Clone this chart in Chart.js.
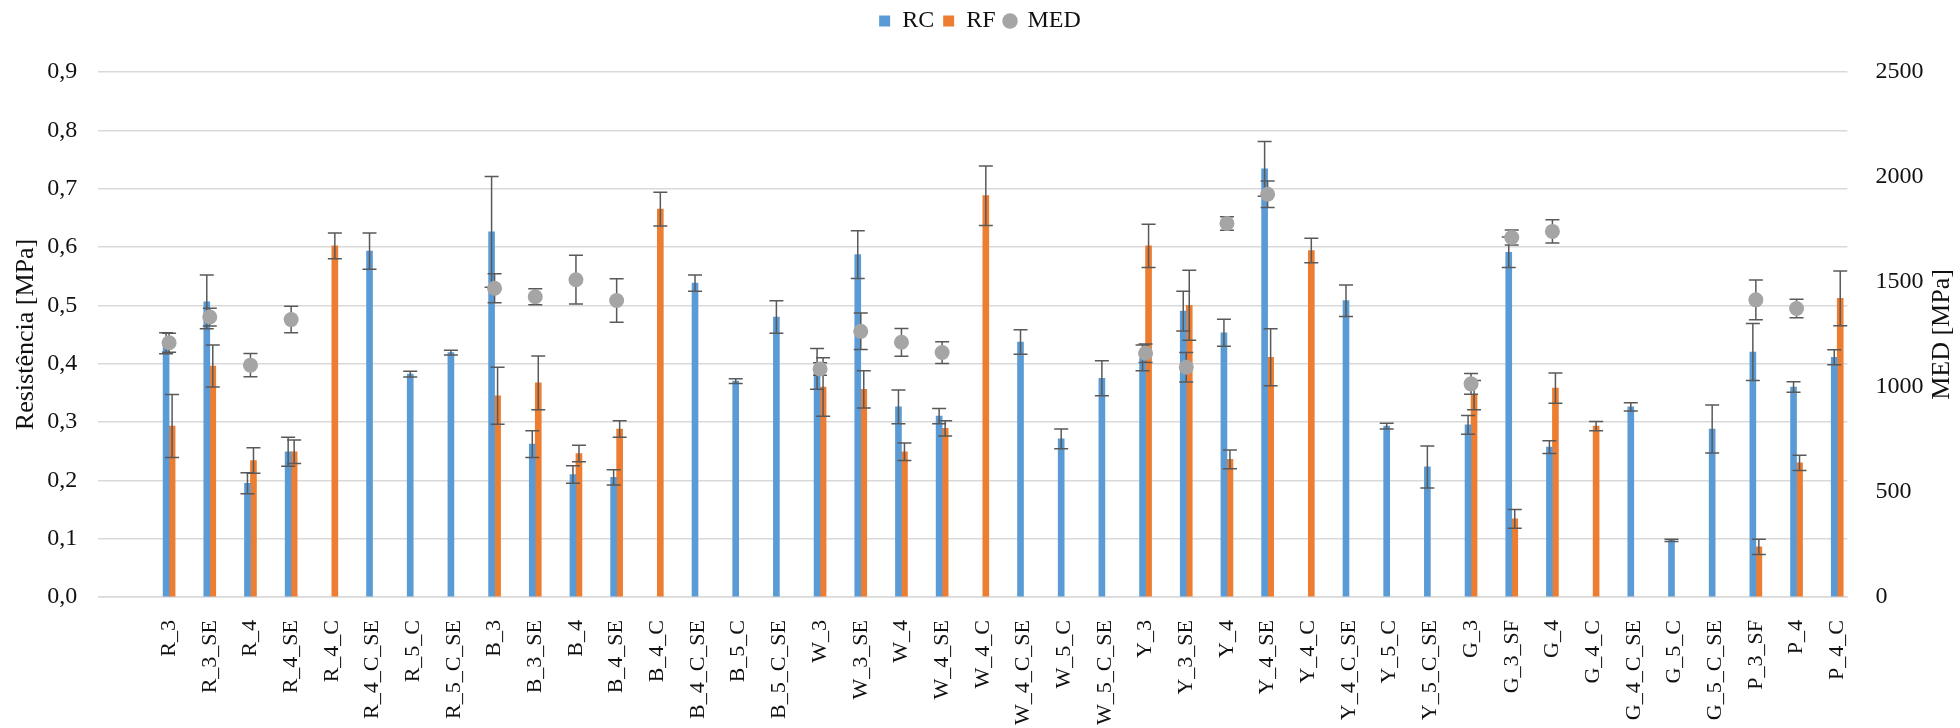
<!DOCTYPE html>
<html>
<head>
<meta charset="utf-8">
<script src="https://cdn.jsdelivr.net/npm/chart.js@4/dist/chart.umd.min.js"></script>
<style>
  body { margin: 0; background: #fff; }
  .wrap { width: 1960px; height: 728px; }
</style>
</head>
<body>
<div class="wrap"><canvas id="chart"></canvas></div>
<script>
const categories = ['R_3', 'R_3_SE', 'R_4', 'R_4_SE', 'R_4_C', 'R_4_C_SE', 'R_5_C', 'R_5_C_SE',
    'B_3', 'B_3_SE', 'B_4', 'B_4_SE', 'B_4_C', 'B_4_C_SE', 'B_5_C', 'B_5_C_SE',
    'W_3', 'W_3_SE', 'W_4', 'W_4_SE', 'W_4_C', 'W_4_C_SE', 'W_5_C', 'W_5_C_SE',
    'Y_3', 'Y_3_SE', 'Y_4', 'Y_4_SE', 'Y_4_C', 'Y_4_C_SE', 'Y_5_C', 'Y_5_C_SE',
    'G_3', 'G_3_SF', 'G_4', 'G_4_C', 'G_4_C_SE', 'G_5_C', 'G_5_C_SE', 'P_3_SF', 'P_4', 'P_4_C'];

// RC [MPa]
const rcValues = [0.435, 0.506, 0.195, 0.249, null, 0.593, 0.382, 0.419,
    0.626, 0.262, 0.210, 0.205, null, 0.538, 0.370, 0.480,
    0.391, 0.587, 0.326, 0.310, null, 0.437, 0.271, 0.375,
    0.410, 0.490, 0.453, 0.734, null, 0.508, 0.293, 0.223,
    0.295, 0.591, 0.257, null, 0.326, 0.097, 0.288, 0.420, 0.360, 0.411];
const rcErrors = [0.018, 0.046, 0.018, 0.025, null, 0.031, 0.005, 0.004,
    0.095, 0.023, 0.015, 0.013, null, 0.014, 0.004, 0.028,
    0.035, 0.041, 0.029, 0.013, null, 0.021, 0.017, 0.030,
    0.022, 0.034, 0.023, 0.047, null, 0.027, 0.005, 0.036,
    0.016, 0.026, 0.011, null, 0.007, 0.002, 0.041, 0.049, 0.009, 0.013];

// RF [MPa]
const rfValues = [0.293, 0.396, 0.234, 0.249, 0.602, null, null, null,
    0.345, 0.367, 0.246, 0.288, 0.665, null, null, null,
    0.360, 0.356, 0.249, 0.289, 0.688, null, null, null,
    0.602, 0.500, 0.236, 0.411, 0.594, null, null, null,
    0.346, 0.134, 0.358, 0.293, null, null, null, 0.086, 0.230, 0.512];
const rfErrors = [0.054, 0.036, 0.022, 0.020, 0.022, null, null, null,
    0.049, 0.046, 0.014, 0.014, 0.029, null, null, null,
    0.050, 0.032, 0.015, 0.013, 0.051, null, null, null,
    0.037, 0.060, 0.016, 0.049, 0.021, null, null, null,
    0.025, 0.016, 0.026, 0.008, null, null, null, 0.013, 0.013, 0.047];

// MED [MPa], right axis
const medValues = [1211, 1333, 1104, 1321, null, null, null, null,
    1470, 1430, 1511, 1412, null, null, null, null,
    1086, 1265, 1213, 1164, null, null, null, null,
    1161, 1094, 1779, 1918, null, null, null, null,
    1015, 1712, 1741, null, null, null, null, 1415, 1374, null];
const medErrors = [45, 42, 55, 63, null, null, null, null,
    69, 38, 116, 104, null, null, null, null,
    30, 87, 66, 52, null, null, null, null,
    44, 70, 32, 63, null, null, null, null,
    49, 36, 55, null, null, null, null, 95, 44, null];

const serif = '"Liberation Serif", "Times New Roman", serif';
const textColor = '#111';

const toPoints = arr => arr.map((v, i) => ({ x: i, y: v }));

const errorBars = {
    id: 'errorBars',
    beforeDatasetDraw(chart, args) {
        if (args.index !== 2) return;
        const ctx = chart.ctx;
        ctx.save();
        ctx.strokeStyle = '#595959';
        ctx.lineWidth = 1.5;
        [[0, rcErrors, 'y'], [1, rfErrors, 'y'], [2, medErrors, 'y2']].forEach(([di, errs, axis]) => {
            const meta = chart.getDatasetMeta(di);
            const scale = chart.scales[axis];
            const data = chart.data.datasets[di].data;
            meta.data.forEach((el, i) => {
                const v = data[i].y, e = errs[i];
                if (v == null || e == null) return;
                const x = el.x;
                const top = scale.getPixelForValue(v + e);
                const bot = scale.getPixelForValue(v - e);
                ctx.beginPath();
                ctx.moveTo(x, top); ctx.lineTo(x, bot);
                ctx.moveTo(x - 7, top); ctx.lineTo(x + 7, top);
                ctx.moveTo(x - 7, bot); ctx.lineTo(x + 7, bot);
                ctx.stroke();
            });
        });
        ctx.restore();
    }
};

// space between the legend and the plot
const legendGap = {
    id: 'legendGap',
    afterInit(chart) {
        const fit = chart.legend.fit;
        chart.legend.fit = function () {
            fit.call(this);
            this.height += 29;
        };
    }
};

// right axis title reads bottom to top
const rightTitle = {
    id: 'rightTitle',
    afterDraw(chart) {
        const { ctx, chartArea } = chart;
        ctx.save();
        ctx.translate(chart.scales.y2.right - 18, (chartArea.top + chartArea.bottom) / 2);
        ctx.rotate(-Math.PI / 2);
        ctx.font = '26px ' + serif;
        ctx.fillStyle = textColor;
        ctx.textAlign = 'center';
        ctx.textBaseline = 'middle';
        ctx.fillText('MED [MPa]', 0, 0);
        ctx.restore();
    }
};

new Chart(document.getElementById('chart'), {
    type: 'bar',
    data: {
        datasets: [{
            label: 'RC',
            data: toPoints(rcValues),
            backgroundColor: '#5B9BD5',
            pointStyle: 'rect',
            barThickness: 6,
            yAxisID: 'y',
            order: 1
        }, {
            label: 'RF',
            data: toPoints(rfValues),
            backgroundColor: '#ED7D31',
            pointStyle: 'rect',
            barThickness: 6,
            yAxisID: 'y',
            order: 1
        }, {
            type: 'line',
            label: 'MED',
            data: toPoints(medValues),
            showLine: false,
            backgroundColor: '#A5A5A5',
            borderColor: '#A5A5A5',
            pointBackgroundColor: '#A5A5A5',
            pointBorderWidth: 0,
            pointRadius: 7.5,
            pointStyle: 'circle',
            yAxisID: 'y2',
            order: 0
        }]
    },
    options: {
        responsive: true,
        maintainAspectRatio: false,
        animation: false,
        layout: { padding: 0 },
        scales: {
            x: {
                type: 'linear',
                offset: false,
                min: -1.74,
                max: 41.25,
                grid: { display: false },
                border: { display: true, color: '#D9D9D9', width: 1.5 },
                afterBuildTicks: s => { s.ticks = categories.map((_, i) => ({ value: i })); },
                afterFit: s => { s.height = 131; },
                ticks: {
                    autoSkip: false,
                    minRotation: 90,
                    maxRotation: 90,
                    padding: 15,
                    color: textColor,
                    font: { family: serif, size: 22 },
                    callback: v => categories[v] ?? ''
                }
            },
            y: {
                position: 'left',
                min: 0,
                max: 0.9,
                grid: { color: '#D9D9D9', lineWidth: 1.5, drawTicks: false },
                border: { display: false },
                afterFit: s => { s.width = 98.3; },
                ticks: {
                    stepSize: 0.1,
                    padding: 21,
                    color: textColor,
                    font: { family: serif, size: 24 },
                    callback: v => v.toFixed(1).replace('.', ',')
                },
                title: {
                    display: true,
                    text: 'Resistência [MPa]',
                    color: textColor,
                    font: { family: serif, size: 26 },
                    padding: { top: 11, bottom: 0 }
                }
            },
            y2: {
                position: 'right',
                min: 0,
                max: 2500,
                grid: { display: false },
                border: { display: false },
                afterFit: s => { s.width = 112.6; },
                ticks: {
                    stepSize: 500,
                    padding: 20,
                    color: textColor,
                    font: { family: serif, size: 24 },
                    callback: v => String(v)
                }
            }
        },
        plugins: {
            legend: {
                position: 'top',
                labels: {
                    usePointStyle: true,
                    boxWidth: 11,
                    boxHeight: 11,
                    padding: 9,
                    color: textColor,
                    font: { family: serif, size: 24 },
                    sort: (a, b) => a.datasetIndex - b.datasetIndex
                }
            },
            tooltip: { enabled: false }
        }
    },
    plugins: [errorBars, legendGap, rightTitle]
});
</script>
</body>
</html>
